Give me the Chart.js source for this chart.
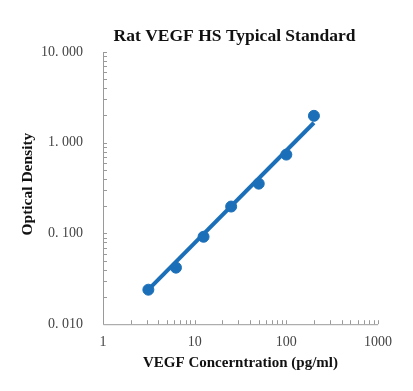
<!DOCTYPE html>
<html>
<head>
<meta charset="utf-8">
<script src="https://cdn.jsdelivr.net/npm/chart.js@4/dist/chart.umd.min.js"></script>
<style>
  html, body { margin: 0; padding: 0; background: #fff; }
  #wrap { width: 413px; height: 391px; }
</style>
</head>
<body>
<div id="wrap"><canvas id="chart" width="413" height="391"></canvas></div>
<script>
// Data standar (konsentrasi vs OD)
const concentrations = [3.125, 6.25, 12.5, 25, 50, 100, 200];
const odValues = [0.024, 0.042, 0.092, 0.198, 0.354, 0.74, 1.98];

// Garis tren
const trendX = [3.125, 200];
const trendY = [0.024, 1.66];

const yTickValues = [0.01, 0.1, 1, 10];
const yTickLabels = ['0. 010', '0. 100', '1. 000', '10. 000'];
const xTickValues = [1, 10, 100, 1000];

const chartTitle = 'Rat VEGF HS Typical Standard';
const xTitle = 'VEGF Concerntration (pg/ml)';
const yTitle = 'Optical Density';
const blue = '#1b6fb8';
const axisColor = '#9a9a9a';

// Plugin untuk sumbu, tick minor ke dalam, dan judul-judul
const axesAndTitle = {
  id: 'axesAndTitle',
  afterDraw(chart) {
    const ctx = chart.ctx;
    const area = chart.chartArea;
    const xs = chart.scales.x, ys = chart.scales.y;
    ctx.save();
    ctx.strokeStyle = axisColor;
    ctx.lineWidth = 1;
    ctx.beginPath();
    ctx.moveTo(area.left + 0.5, area.top);
    ctx.lineTo(area.left + 0.5, area.bottom + 0.5);
    ctx.lineTo(area.right, area.bottom + 0.5);
    ctx.stroke();
    ctx.beginPath();
    for (let d = 0.01; d < 10; d *= 10) {
      for (let m = 2; m <= 10; m++) {
        const y = Math.round(ys.getPixelForValue(d * m)) + 0.5;
        ctx.moveTo(area.left, y);
        ctx.lineTo(area.left + 4, y);
      }
    }
    for (let d = 1; d < 1000; d *= 10) {
      for (let m = 2; m <= 10; m++) {
        const x = Math.round(xs.getPixelForValue(d * m)) + 0.5;
        ctx.moveTo(x, area.bottom);
        ctx.lineTo(x, area.bottom - 4);
      }
    }
    ctx.stroke();

    const midX = (area.left + area.right) / 2;
    const midY = (area.top + area.bottom) / 2;
    ctx.fillStyle = '#111';
    ctx.textAlign = 'center';
    ctx.textBaseline = 'middle';
    // judul utama
    ctx.font = 'bold 17.5px "Liberation Serif"';
    ctx.fillText(chartTitle, midX - 6, 36);
    // judul sumbu x
    ctx.font = 'bold 15px "Liberation Serif"';
    ctx.fillText(xTitle, midX, 363);
    // judul sumbu y
    ctx.font = 'bold 15.5px "Liberation Serif"';
    ctx.translate(28, midY - 4);
    ctx.rotate(-Math.PI / 2);
    ctx.fillText(yTitle, 0, 0);
    ctx.restore();
  }
};

document.addEventListener('DOMContentLoaded', function() {
  const ctx = document.getElementById('chart');
  new Chart(ctx, {
    type: 'scatter',
    data: {
      datasets: [
        {
          label: 'Trend',
          data: trendX.map((x, i) => ({ x: x, y: trendY[i] })),
          showLine: true,
          borderColor: blue,
          borderWidth: 4,
          pointRadius: 0,
          order: 2
        },
        {
          label: 'Standard',
          data: concentrations.map((x, i) => ({ x: x, y: odValues[i] })),
          showLine: false,
          backgroundColor: blue,
          borderColor: blue,
          pointRadius: 5.5,
          order: 1
        }
      ]
    },
    options: {
      responsive: false,
      animation: false,
      layout: { padding: { left: 21, right: 35, top: 52, bottom: 30 } },
      plugins: {
        legend: { display: false },
        tooltip: { enabled: false },
        title: { display: false }
      },
      scales: {
        x: {
          type: 'logarithmic',
          min: 1, max: 1000,
          afterBuildTicks: s => { s.ticks = xTickValues.map(v => ({ value: v })); },
          ticks: {
            color: '#444',
            font: { family: 'Liberation Serif', size: 14 },
            padding: 10,
            callback: v => String(v)
          },
          grid: { display: false, drawTicks: false },
          border: { display: false }
        },
        y: {
          type: 'logarithmic',
          min: 0.01, max: 10,
          afterBuildTicks: s => { s.ticks = yTickValues.map(v => ({ value: v })); },
          ticks: {
            color: '#444',
            font: { family: 'Liberation Serif', size: 14 },
            padding: 20,
            callback: v => yTickLabels[yTickValues.indexOf(v)]
          },
          grid: { display: false, drawTicks: false },
          border: { display: false }
        }
      }
    },
    plugins: [axesAndTitle]
  });
});
</script>
</body>
</html>
